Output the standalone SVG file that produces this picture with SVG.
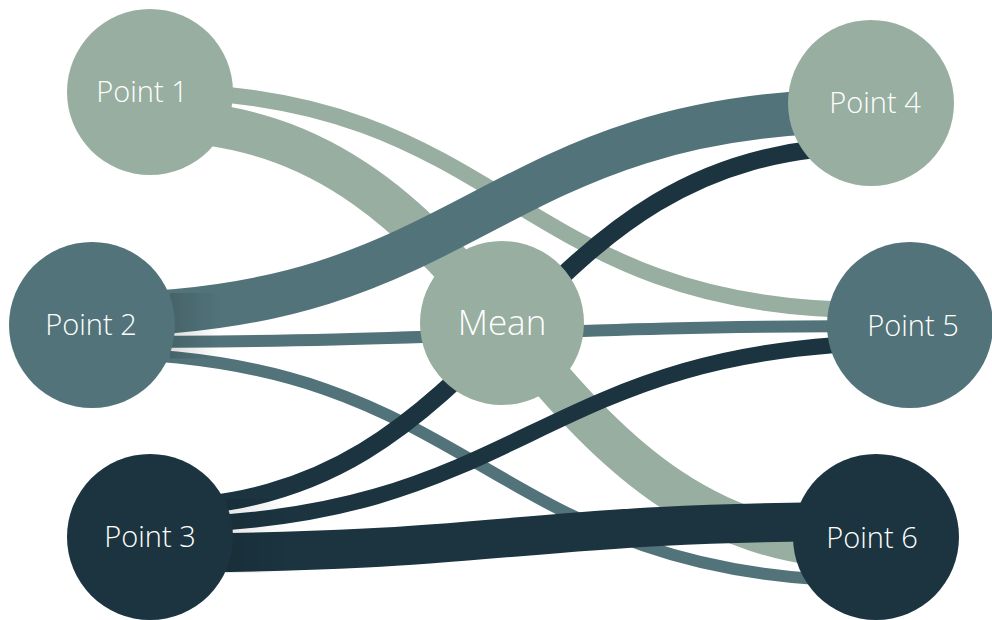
<svg xmlns="http://www.w3.org/2000/svg" width="992" height="620" viewBox="0 0 992 620">
<defs>
<style>
.lk{fill:none;stroke-linecap:butt}
.light{stroke:#97AEA0}
.mid{stroke:#52737A}
.dark{stroke:#1B3440}
.c-light{fill:#97AEA0}
.c-mid{fill:#52737A}
.c-dark{fill:#1B3440}
.lbl{font-family:"Open Sans","Noto Sans","Liberation Sans",sans-serif;font-weight:300;fill:#ffffff;text-anchor:middle;font-size:29px}
.lbl-mean{font-size:35px}
</style>
<linearGradient id="shade2" x1="0" y1="0" x2="1" y2="0">
<stop offset="0" stop-color="#000" stop-opacity="0.14"/>
<stop offset="1" stop-color="#000" stop-opacity="0"/>
</linearGradient>
<linearGradient id="shade3" x1="0" y1="0" x2="1" y2="0">
<stop offset="0" stop-color="#000" stop-opacity="0.1"/>
<stop offset="1" stop-color="#000" stop-opacity="0"/>
</linearGradient>
</defs>
<rect width="992" height="620" fill="#ffffff"/>
<g id="connectors">
<path class="lk light" stroke-width="16" d="M150,91 C510,91 510,310 870,310"/>
<path class="lk light" stroke-width="42" d="M150,120.5 C513,120.5 513,549 876,549"/>
<path class="lk mid" stroke-width="44" d="M92,314.5 C481,314.5 481,110.5 871,110.5"/>
<path class="lk mid" stroke-width="12" d="M92,342 C501,342 501,326 910,326"/>
<path class="lk mid" stroke-width="12" d="M92,353.5 C484,353.5 484,581 876,581"/>
<path class="lk dark" stroke-width="18" d="M150,508 C510,508 510,146 871,146"/>
<path class="lk dark" stroke-width="16" d="M150,525 C530,525 530,342.5 910,342.5"/>
<path class="lk dark" stroke-width="39" d="M150,553 C513,553 513,521.5 876,521.5"/>
<rect x="170" y="293" width="50" height="65.5" fill="url(#shade2)"/>
<rect x="226" y="499" width="64" height="74" fill="url(#shade3)"/>
</g>
<g id="point1"><circle class="c-light" cx="150" cy="92" r="83"/><text class="lbl" x="142" y="102">Point 1</text></g>
<g id="point2"><circle class="c-mid" cx="92" cy="325" r="83"/><text class="lbl" x="91" y="335">Point 2</text></g>
<g id="point3"><circle class="c-dark" cx="150" cy="537" r="83"/><text class="lbl" x="150" y="547">Point 3</text></g>
<g id="mean"><circle class="c-light" cx="502" cy="323" r="82"/><text class="lbl lbl-mean" x="502" y="335">Mean</text></g>
<g id="point4"><circle class="c-light" cx="871" cy="103" r="83"/><text class="lbl" x="875" y="113">Point 4</text></g>
<g id="point5"><circle class="c-mid" cx="910" cy="325" r="83"/><text class="lbl" x="913" y="336">Point 5</text></g>
<g id="point6"><circle class="c-dark" cx="876" cy="537" r="83"/><text class="lbl" x="872" y="548">Point 6</text></g>
</svg>
